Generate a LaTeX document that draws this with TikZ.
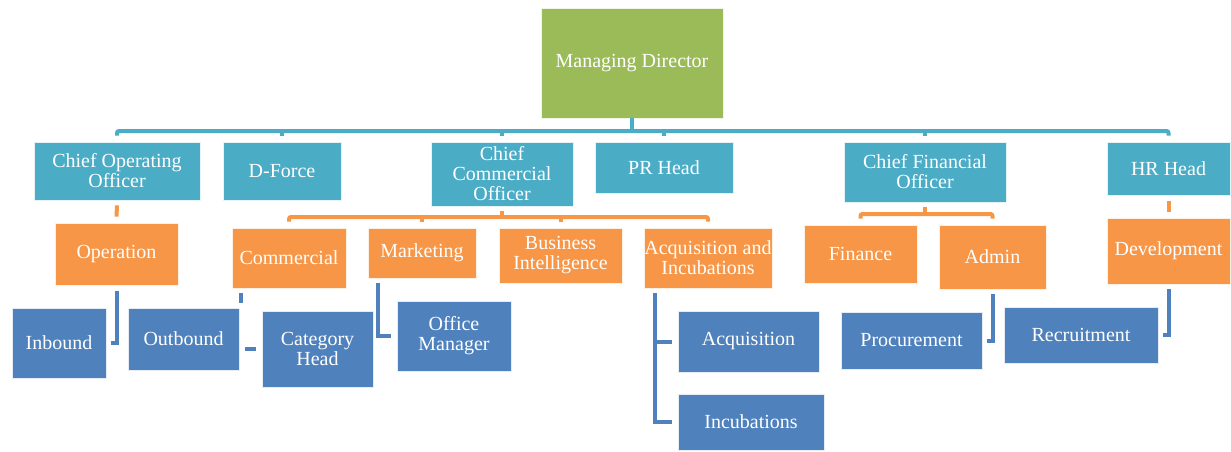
\documentclass[tikz,border=0pt]{standalone}
\usepackage{fontspec}
\setmainfont{Liberation Serif}
\usepackage{xcolor}
\usepackage{tikz}
\definecolor{mdgreen}{HTML}{9BBB59}
\definecolor{officeteal}{HTML}{4BACC6}
\definecolor{deptorange}{HTML}{F79646}
\definecolor{unitblue}{HTML}{4F81BD}
\tikzset{
greenbox/.style={rectangle, draw=white!85!mdgreen, fill=mdgreen, line width=0.8pt, inner sep=0pt, text=white, align=center, font=\fontsize{20}{20}\selectfont},
tealbox/.style={greenbox, draw=white!85!officeteal, fill=officeteal},
orangebox/.style={greenbox, draw=white!85!deptorange, fill=deptorange},
bluebox/.style={greenbox, draw=white!85!unitblue, fill=unitblue},
tealline/.style={draw=officeteal, line width=4pt},
orangeline/.style={draw=deptorange, line width=4pt},
blueline/.style={draw=unitblue, line width=4pt},
}
\begin{document}
\begin{tikzpicture}[x=1pt,y=1pt]
    \useasboundingbox (0,0) rectangle (1231,451);
    \coordinate (bus) at (0,320);
    \coordinate (cbus) at (0,234);
    \coordinate (fbus) at (0,237);
    % top level
    \node[greenbox, minimum width=182pt, minimum height=110pt] at (632,388) (md) {Managing Director};
    \node[tealbox, minimum width=166pt, minimum height=58pt] at (117,280) (coo) {Chief Operating\\Officer};
    \node[tealbox, minimum width=118pt, minimum height=58pt] at (282,280) (dforce) {D-Force};
    \node[tealbox, minimum width=142pt, minimum height=64pt] at (502,277) (cco) {Chief\\Commercial\\Officer};
    \node[tealbox, minimum width=138pt, minimum height=51pt] at (664,283.5) (pr) {PR Head};
    \node[tealbox, minimum width=162pt, minimum height=60pt] at (925,279) (cfo) {Chief Financial\\Officer};
    \node[tealbox, minimum width=123pt, minimum height=53pt] at (1168.5,282.5) (hr) {HR Head};
    \draw[tealline] (md.south) -- (md.south |- bus);
    \draw[tealline, rounded corners=2pt] ([yshift=6pt]coo.north) |- (md.south |- bus) -| ([yshift=6pt]hr.north);
    \foreach \n in {dforce,cco,pr,cfo}
        \draw[tealline] (\n.north |- bus) -- ([yshift=6pt]\n.north);
    % departments
    \node[orangebox, minimum width=123pt, minimum height=62pt] at (116.5,197) (oper) {Operation};
    \node[orangebox, minimum width=114pt, minimum height=60pt] at (289,193) (comm) {Commercial};
    \node[orangebox, minimum width=108pt, minimum height=50pt] at (422,198) (mkt) {Marketing};
    \node[orangebox, minimum width=123pt, minimum height=55pt] at (560.5,195.5) (bi) {Business\\Intelligence};
    \node[orangebox, minimum width=128pt, minimum height=60pt] at (708,193) (acqinc) {Acquisition and\\Incubations};
    \node[orangebox, minimum width=113pt, minimum height=58pt] at (860.5,197) (fin) {Finance};
    \node[orangebox, minimum width=107pt, minimum height=64pt] at (992.5,194) (admin) {Admin};
    \node[orangebox, minimum width=123pt, minimum height=66pt] at (1168.5,200) (dev) {Development};
    \draw[orangeline] ([yshift=-5pt]coo.south) -- ([yshift=6pt]oper.north);
    \draw[orangeline] ([yshift=-5pt]cco.south) -- (cco.south |- cbus);
    \draw[orangeline, rounded corners=2pt] ([yshift=6pt]comm.north) |- (cco.south |- cbus) -| ([yshift=6pt]acqinc.north);
    \foreach \n in {mkt,bi}
        \draw[orangeline] (\n.north |- cbus) -- ([yshift=6pt]\n.north);
    \draw[orangeline] ([yshift=-5pt]cfo.south) -- (cfo.south |- fbus);
    \draw[orangeline, rounded corners=2pt] ([yshift=6pt]fin.north) |- (cfo.south |- fbus) -| ([yshift=6pt]admin.north);
    \draw[orangeline] ([yshift=-6pt]hr.south) -- ([yshift=6pt]dev.north);
    % units
    \node[bluebox, minimum width=94pt, minimum height=70pt] at (59,108) (inb) {Inbound};
    \node[bluebox, minimum width=111pt, minimum height=62pt] at (183.5,112) (outb) {Outbound};
    \node[bluebox, minimum width=111pt, minimum height=76pt] at (317.5,102) (cat) {Category\\Head};
    \node[bluebox, minimum width=114pt, minimum height=70pt] at (454,115) (offm) {Office\\Manager};
    \node[bluebox, minimum width=141pt, minimum height=61pt] at (748.5,109.5) (acq) {Acquisition};
    \node[bluebox, minimum width=146pt, minimum height=56pt] at (751,29) (incu) {Incubations};
    \node[bluebox, minimum width=141pt, minimum height=57pt] at (911.5,110.5) (proc) {Procurement};
    \node[bluebox, minimum width=154pt, minimum height=56pt] at (1081,116) (recr) {Recruitment};
    \draw[blueline] ([yshift=-6pt]oper.south) |- ([xshift=5pt]inb.east);
    \draw[blueline] ([shift={(9pt,-5pt)}]comm.south west) -- ++(0,-10) ([xshift=-17pt]cat.west) -- ([xshift=-6pt]cat.west);
    \draw[blueline] ([shift={(10pt,-5pt)}]mkt.south west) |- ([xshift=-6pt]offm.west);
    \draw[blueline] ([shift={(11pt,-5pt)}]acqinc.south west) |- ([xshift=-6pt]acq.west);
    \draw[blueline] ([shift={(11pt,-5pt)}]acqinc.south west) |- ([xshift=-6pt]incu.west);
    \draw[blueline] ([yshift=-5pt]admin.south) |- ([xshift=5pt]proc.east);
    \draw[blueline] ([yshift=-5pt]dev.south) |- ([xshift=5pt]recr.east);
\end{tikzpicture}
\end{document}
